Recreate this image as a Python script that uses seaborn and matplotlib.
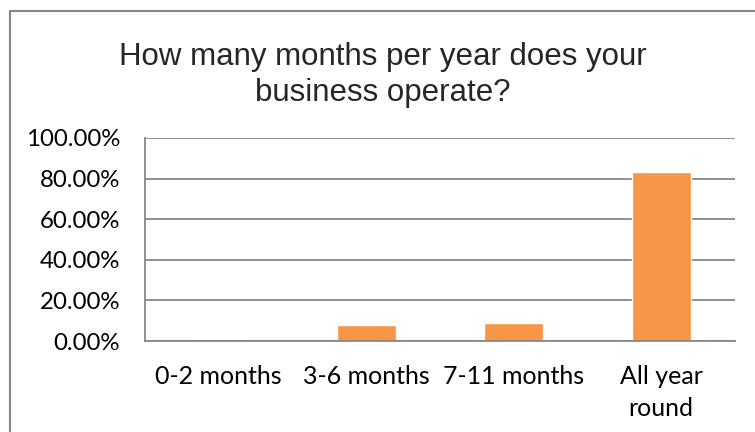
import matplotlib
matplotlib.use("Agg")
import matplotlib.pyplot as plt
import seaborn as sns
import pandas as pd
from matplotlib.lines import Line2D
from matplotlib.ticker import FuncFormatter, FixedLocator

categories = ["0-2 months", "3-6 months", "7-11 months", "All year\nround"]
shares = [0.0, 8.0, 8.67, 83.33]
y_ticks = [0, 20, 40, 60, 80, 100]
title = "How many months per year does your\nbusiness operate?"

sns.set_theme(style="white")
plt.rcParams["font.family"] = ["Lato", "DejaVu Sans"]

grey = "#868686"
bar_color = "#F79646"

fig = plt.figure(figsize=(7.55, 4.32), dpi=100)
ax = fig.add_axes([145 / 755, 1 - 341 / 432, (735 - 145) / 755, (341 - 138) / 432])

df = pd.DataFrame({"category": categories, "share": shares})
sns.barplot(data=df, x="category", y="share", color=bar_color, saturation=1,
            width=0.4, ax=ax)

ax.set_xlim(-0.5, len(categories) - 0.5)
ax.set_ylim(0, 100)
ax.set_xlabel("")
ax.set_ylabel("")

ax.yaxis.set_major_locator(FixedLocator(y_ticks))
ax.yaxis.set_major_formatter(FuncFormatter(lambda v, p: f"{v:.2f}%"))
ax.grid(axis="y", color=grey, linewidth=1.3)
ax.set_axisbelow(True)

# category labels centred under bars, tick marks on category boundaries
ax.set_xticks(range(len(categories)))
ax.set_xticklabels(categories, fontsize=18, color="black", linespacing=1.5)
ax.tick_params(axis="x", which="major", length=0, pad=17)
ax.set_xticks([i - 0.5 for i in range(len(categories) + 1)], minor=True)
ax.tick_params(axis="x", which="minor", length=6, width=1.3, color=grey, direction="out")
ax.tick_params(axis="y", length=6, width=1.3, color=grey, direction="out",
               labelsize=17.3, labelcolor="black", pad=12)

for side in ["top", "right"]:
    ax.spines[side].set_visible(False)
for side in ["left", "bottom"]:
    ax.spines[side].set_color(grey)
    ax.spines[side].set_linewidth(1.3)

fig.text(383 / 755, 1 - 75 / 432, title, ha="center", va="center", fontsize=22.5,
         family=["Liberation Sans", "DejaVu Sans"], linespacing=1.25)

# chart frame: top and left edges only
x0, y0 = 10 / 755, 1 - 11 / 432
fig.add_artist(Line2D([x0, 1], [y0, y0], transform=fig.transFigure, color=grey, linewidth=1.5))
fig.add_artist(Line2D([x0, x0], [0, y0], transform=fig.transFigure, color=grey, linewidth=1.5))

fig.savefig("out.png", dpi=100, facecolor="white")
